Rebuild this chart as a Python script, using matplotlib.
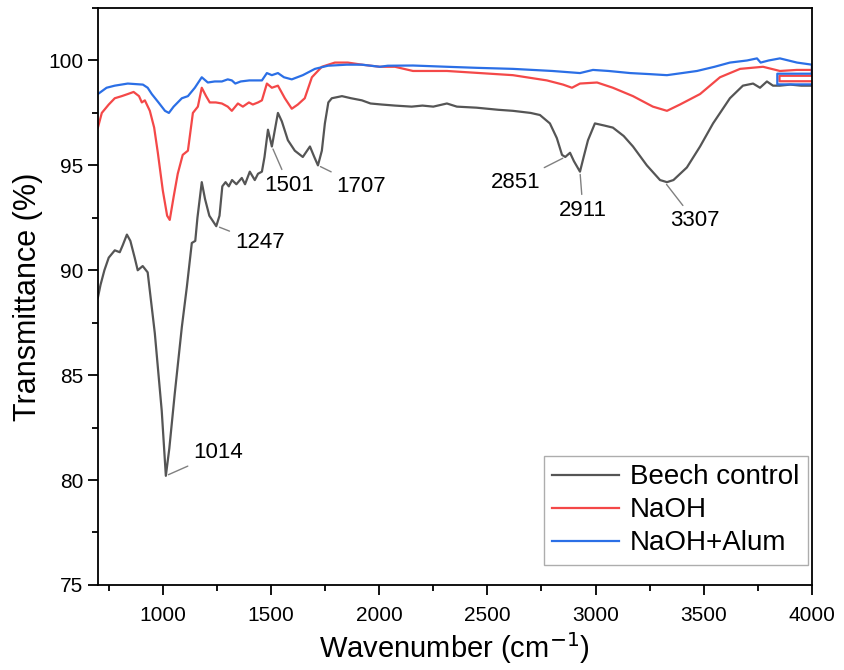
import matplotlib
matplotlib.use('Agg')
import matplotlib.pyplot as plt
from matplotlib.ticker import MultipleLocator

plt.rcParams['font.family'] = ['Liberation Sans', 'DejaVu Sans']

# Beech control
beech_x = [700, 712, 730, 750, 778, 801, 815, 834, 850, 870, 884, 907, 930, 963, 995, 1014,
           1030, 1055, 1088, 1111, 1134, 1150, 1160, 1180, 1195, 1215, 1247, 1262, 1275,
           1290, 1305, 1320, 1340, 1365, 1380, 1402, 1425, 1440, 1458, 1470, 1486, 1504,
           1532, 1550, 1578, 1610, 1647, 1680, 1700, 1717, 1735, 1749, 1765, 1781, 1828,
           1870, 1920, 1960, 2012, 2073, 2150, 2200, 2250, 2313, 2359, 2450, 2550, 2618,
           2700, 2743, 2789, 2821, 2845, 2860, 2882, 2900, 2928, 2945, 2965, 2997, 3040,
           3080, 3130, 3173, 3237, 3298, 3330, 3360, 3422, 3483, 3543, 3621, 3681, 3728,
           3760, 3792, 3820, 3852, 3900, 3950, 4000]
beech_y = [88.7, 89.3, 90.0, 90.6, 90.95, 90.86, 91.2, 91.7, 91.4, 90.6, 90.0, 90.2, 89.9, 87.0,
           83.3, 80.2, 81.5, 84.1, 87.3, 89.2, 91.3, 91.4, 92.5, 94.2, 93.4, 92.6, 92.1,
           92.6, 94.0, 94.2, 94.0, 94.3, 94.1, 94.4, 94.1, 94.7, 94.3, 94.6, 94.7, 95.4,
           96.7, 95.9, 97.5, 97.1, 96.2, 95.7, 95.4, 95.9, 95.4, 95.0, 95.7, 97.0, 98.0,
           98.2, 98.3, 98.2, 98.1, 97.95, 97.9, 97.85, 97.8, 97.85, 97.8, 97.95, 97.8,
           97.75, 97.65, 97.6, 97.5, 97.4, 97.0, 96.3, 95.5, 95.4, 95.6, 95.2, 94.7, 95.4,
           96.2, 97.0, 96.9, 96.8, 96.4, 95.9, 95.0, 94.3, 94.2, 94.3, 94.9, 95.9, 97.0,
           98.2, 98.8, 98.9, 98.7, 99.0, 98.8, 98.8, 98.85, 98.8, 98.8]

# NaOH
naoh_x = [700, 718, 750, 778, 810, 838, 865, 890, 903, 917, 940, 960, 977, 1000, 1020, 1032,
          1050, 1069, 1092, 1116, 1139, 1162, 1180, 1200, 1217, 1245, 1273, 1300, 1319, 1347,
          1370, 1398, 1416, 1440, 1458, 1481, 1504, 1532, 1564, 1596, 1624, 1656, 1689, 1735,
          1795, 1855, 1920, 2003, 2073, 2156, 2313, 2466, 2618, 2775, 2850, 2891, 2928, 3007,
          3080, 3173, 3265, 3330, 3390, 3483, 3575, 3668, 3774, 3852, 3930, 4000,
          4000, 3850, 3850, 4000]
naoh_y = [96.8, 97.5, 97.9, 98.2, 98.3, 98.4, 98.5, 98.3, 98.0, 98.1, 97.6, 96.8, 95.6, 93.8,
          92.6, 92.4, 93.5, 94.6, 95.5, 95.7, 97.5, 97.8, 98.7, 98.3, 98.0, 98.0, 97.95, 97.8,
          97.6, 97.95, 97.8, 98.0, 97.9, 98.0, 98.1, 98.9, 98.7, 98.8, 98.2, 97.7, 97.9, 98.2,
          99.2, 99.7, 99.9, 99.9, 99.8, 99.7, 99.7, 99.5, 99.5, 99.4, 99.3, 99.05, 98.85, 98.7,
          98.9, 98.95, 98.7, 98.3, 97.8, 97.6, 97.9, 98.4, 99.2, 99.6, 99.7, 99.5, 99.55, 99.55,
          99.27, 99.27, 99.01, 99.01]

# NaOH+Alum
alum_x = [700, 740, 778, 838, 908, 930, 949, 980, 1010, 1028, 1050, 1088, 1116, 1148, 1180,
          1208, 1240, 1273, 1300, 1319, 1335, 1360, 1400, 1458, 1481, 1504, 1532, 1560, 1596,
          1647, 1703, 1763, 1850, 1920, 2003, 2040, 2156, 2313, 2450, 2618, 2800, 2928, 2988,
          3060, 3160, 3250, 3330, 3400, 3469, 3550, 3621, 3700, 3746, 3763, 3800, 3852, 3931,
          4000, 4000, 3840, 3840, 4000]
alum_y = [98.4, 98.7, 98.8, 98.9, 98.85, 98.7, 98.4, 98.0, 97.6, 97.5, 97.8, 98.2, 98.3, 98.7,
          99.2, 98.95, 99.0, 99.0, 99.1, 99.05, 98.9, 99.0, 99.05, 99.05, 99.4, 99.3, 99.4,
          99.2, 99.1, 99.3, 99.6, 99.75, 99.8, 99.8, 99.7, 99.75, 99.76, 99.7, 99.65, 99.6,
          99.5, 99.4, 99.55, 99.5, 99.4, 99.35, 99.3, 99.4, 99.5, 99.7, 99.9, 100.0, 100.1,
          99.9, 100.0, 100.1, 99.9, 99.8, 99.37, 99.37, 98.86, 98.86]

# peak labels
peak_labels = ['1014', '1247', '1501', '1707', '2851', '2911', '3307']
peak_pos = [(1014, 80.2), (1250, 92.1), (1504, 95.9), (1717, 95.0), (2860, 95.4), (2928, 94.7), (3320, 94.2)]
label_pos = [(1140, 81.3), (1333, 91.3), (1467, 94.05), (1800, 94.0), (2745, 94.2), (2942, 92.85), (3459, 92.35)]
label_ha = ['left', 'left', 'left', 'left', 'right', 'center', 'center']

fig = plt.figure(figsize=(8.44, 6.7), dpi=100)
ax = fig.add_axes([0.116, 0.127, 0.846, 0.861])

ax.plot(beech_x, beech_y, color='#555555', lw=1.6, label='Beech control')
ax.plot(naoh_x, naoh_y, color='#F44848', lw=1.6, label='NaOH')
ax.plot(alum_x, alum_y, color='#2B6FE6', lw=1.6, label='NaOH+Alum')

for lab, (px, py), (tx, ty), ha in zip(peak_labels, peak_pos, label_pos, label_ha):
    ax.annotate(lab, xy=(px, py), xytext=(tx, ty), ha=ha, va='center', fontsize=16,
                arrowprops=dict(arrowstyle='-', color='#808080', lw=1,
                                shrinkA=2, shrinkB=2))

ax.set_xlim(700, 4000)
ax.set_ylim(75, 102.5)
ax.xaxis.set_major_locator(MultipleLocator(500))
ax.xaxis.set_minor_locator(MultipleLocator(250))
ax.yaxis.set_major_locator(MultipleLocator(5))
ax.yaxis.set_minor_locator(MultipleLocator(2.5))
ax.tick_params(which='both', direction='out', width=1.3, labelsize=15, top=False, right=False)
ax.tick_params(which='major', length=7)
ax.tick_params(which='minor', length=4)
ax.tick_params(axis='x', pad=8)
for s in ax.spines.values():
    s.set_linewidth(1.3)

ax.set_xlabel('Wavenumber (cm$^{-1}$)', fontsize=21)
ax.set_ylabel('Transmittance (%)', fontsize=22)

leg = ax.legend(loc='lower right', bbox_to_anchor=(0.994, 0.035), borderaxespad=0,
                fontsize=20, fancybox=False, handlelength=2.4, labelspacing=0.25,
                borderpad=0.3, handletextpad=0.4)
leg.get_frame().set_edgecolor('#999999')
leg.get_frame().set_linewidth(1)

plt.savefig('out.png', dpi=100)
